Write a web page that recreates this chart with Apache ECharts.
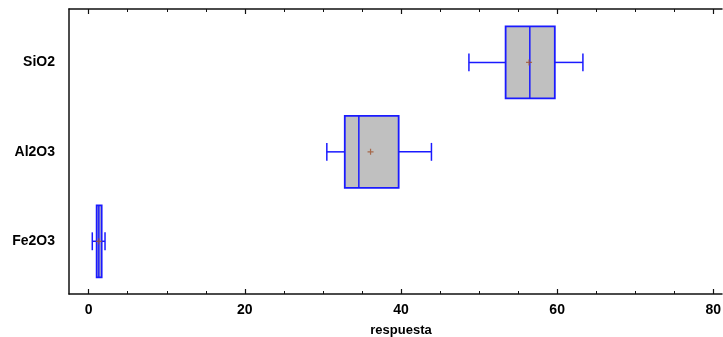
<!DOCTYPE html>
<html>
<head>
<meta charset="utf-8">
<script src="https://cdn.jsdelivr.net/npm/echarts@6/dist/echarts.min.js"></script>
<style>html,body{margin:0;padding:0;background:#fff}#c{width:723px;height:337px}</style>
</head>
<body>
<div id="c"></div>
<script>
// Data
var categories = ['SiO2', 'Al2O3', 'Fe2O3'];
var whiskerMin = [48.7, 30.5, 0.46];
var q1 = [53.4, 32.8, 1.02];
var median = [56.5, 34.6, 1.3];
var q3 = [59.7, 39.7, 1.66];
var whiskerMax = [63.3, 43.9, 2.09];
var means = [56.4, 36.1, 1.3];
var xTicksMajor = [0, 20, 40, 60, 80];
var xAxisTitle = 'respuesta';

var FONT = '"Liberation Sans", Arial, sans-serif';
var chart = echarts.init(document.getElementById('c'), null, {renderer: 'canvas'});

var boxData = categories.map(function (c, i) {
  return [i, whiskerMin[i], q1[i], median[i], q3[i], whiskerMax[i]];
});
var meanData = categories.map(function (c, i) { return [means[i], i]; });

var frameLine = {show: true, lineStyle: {color: '#111', width: 1.5}};

var option = {
  animation: false,
  backgroundColor: '#fff',
  grid: [
    {left: 69, right: 1, top: 9, bottom: 43, outerBoundsMode: 'none', containLabel: false},
    {left: 88.7, right: 9.7, top: 9, bottom: 43, outerBoundsMode: 'none', containLabel: false},
    {left: 88.7, right: 9.7, top: 17.7, bottom: 51, outerBoundsMode: 'none', containLabel: false}
  ],
  xAxis: [
    {gridIndex: 0, type: 'value', min: 0, max: 1, position: 'bottom', axisLine: frameLine, axisTick: {show: false}, axisLabel: {show: false}, splitLine: {show: false}},
    {gridIndex: 0, type: 'value', min: 0, max: 1, position: 'top', axisLine: frameLine, axisTick: {show: false}, axisLabel: {show: false}, splitLine: {show: false}},
    {gridIndex: 1, type: 'value', min: xTicksMajor[0], max: xTicksMajor[xTicksMajor.length - 1], interval: 20, position: 'bottom',
      axisLine: {show: false},
      axisTick: {show: true, inside: true, length: 5, lineStyle: {color: '#111', width: 1.2}},
      minorTick: {show: true, splitNumber: 4, length: 3, lineStyle: {color: '#111', width: 1}},
      splitLine: {show: false}, minorSplitLine: {show: false},
      axisLabel: {show: true, margin: 9, color: '#000', fontFamily: FONT, fontWeight: 'bold', fontSize: 14},
      name: xAxisTitle, nameLocation: 'middle', nameGap: 30,
      nameTextStyle: {color: '#000', fontFamily: FONT, fontWeight: 'bold', fontSize: 13}
    },
    {gridIndex: 1, type: 'value', min: 0, max: 80, interval: 20, position: 'top',
      axisLine: {show: false},
      axisTick: {show: true, inside: true, length: 5, lineStyle: {color: '#111', width: 1.2}},
      minorTick: {show: true, splitNumber: 4, length: 3, lineStyle: {color: '#111', width: 1}},
      splitLine: {show: false}, axisLabel: {show: false}
    },
    {gridIndex: 2, type: 'value', min: 0, max: 80, show: false, splitLine: {show: false}}
  ],
  yAxis: [
    {gridIndex: 0, type: 'value', min: 0, max: 1, axisLine: frameLine, axisTick: {show: false}, axisLabel: {show: false}, splitLine: {show: false}},
    {gridIndex: 1, type: 'value', show: false, splitLine: {show: false}},
    {gridIndex: 2, type: 'category', data: categories, inverse: true,
      axisLine: {show: false}, axisTick: {show: false}, splitLine: {show: false},
      axisLabel: {margin: 33.7, color: '#000', fontFamily: FONT, fontWeight: 'bold', fontSize: 14}
    }
  ],
  series: [
    {
      type: 'custom',
      xAxisIndex: 4, yAxisIndex: 2,
      data: boxData,
      encode: {x: [1, 2, 3, 4, 5], y: 0},
      renderItem: function (params, api) {
        var c = api.value(0);
        var band = api.size([0, 1])[1];
        var yc = api.coord([0, c])[1];
        var X = function (v) { return api.coord([v, c])[0]; };
        var h = band * 0.805 / 2, ch = band * 0.1;
        var xmin = X(api.value(1)), xq1 = X(api.value(2)), xmed = X(api.value(3)), xq3 = X(api.value(4)), xmax = X(api.value(5));
        var ls = {stroke: '#1a1aff', lineWidth: 1.5, fill: null};
        return {
          type: 'group',
          children: [
            {type: 'line', shape: {x1: xmin, y1: yc, x2: xq1, y2: yc}, style: ls},
            {type: 'line', shape: {x1: xq3, y1: yc, x2: xmax, y2: yc}, style: ls},
            {type: 'line', shape: {x1: xmin, y1: yc - ch, x2: xmin, y2: yc + ch}, style: ls},
            {type: 'line', shape: {x1: xmax, y1: yc - ch, x2: xmax, y2: yc + ch}, style: ls},
            {type: 'rect', shape: {x: xq1, y: yc - h, width: xq3 - xq1, height: 2 * h}, style: {fill: '#c0c0c0', stroke: '#1a1aff', lineWidth: 1.8}},
            {type: 'line', shape: {x1: xmed, y1: yc - h, x2: xmed, y2: yc + h}, style: ls}
          ]
        };
      }
    },
    {
      type: 'scatter',
      xAxisIndex: 4, yAxisIndex: 2,
      data: meanData,
      symbol: 'path://M4,0L6,0L6,4L10,4L10,6L6,6L6,10L4,10L4,6L0,6L0,4L4,4Z',
      symbolSize: 6,
      itemStyle: {color: '#a0522d'},
      z: 5
    }
  ]
};
chart.setOption(option);
</script>
</body>
</html>
